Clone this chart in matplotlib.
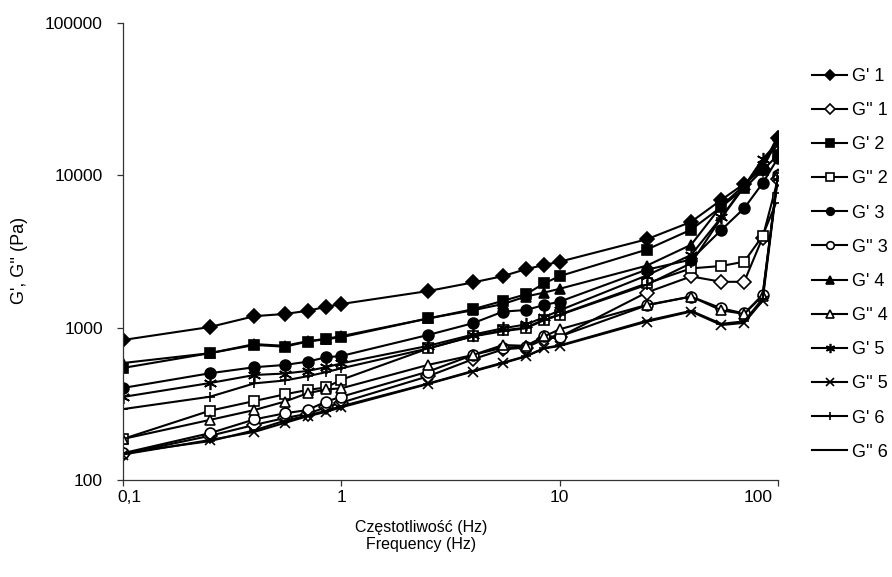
import matplotlib
matplotlib.use('Agg')
import matplotlib.pyplot as plt
import matplotlib.transforms as mtransforms
from matplotlib.ticker import FixedLocator, NullLocator

plt.rcParams['font.family'] = ['Liberation Sans', 'DejaVu Sans']

# frequency sweep (Hz)
freq = [0.1, 0.25, 0.4, 0.55, 0.7, 0.85, 1, 2.5, 4, 5.5, 7, 8.5, 10,
        25, 40, 55, 70, 85, 100]

# moduli (Pa)
g1_st = [830, 1010, 1190, 1230, 1290, 1370, 1430, 1740, 1980, 2180, 2420, 2580, 2710,
         3800, 4950, 6900, 8800, 11000, 17500]
g1_ld = [148, 195, 230, 255, 272, 300, 322, 480, 620, 720, 740, 840, 870,
         1700, 2170, 2000, 2000, 3900, 9500]
g2_st = [544, 680, 770, 750, 810, 840, 865, 1150, 1320, 1500, 1655, 1955, 2180,
         3250, 4400, 6200, 8200, 10800, 13600]
g2_ld = [186, 285, 330, 365, 390, 405, 455, 730, 880, 960, 1000, 1130, 1220,
         1950, 2450, 2540, 2710, 4000, 7100]
g3_st = [402, 502, 550, 569, 598, 639, 652, 896, 1069, 1274, 1306, 1409, 1482,
         2400, 2800, 4380, 6080, 8870, 13000]
g3_ld = [150, 203, 250, 274, 288, 327, 352, 515, 661, 740, 750, 876, 875,
         1400, 1600, 1340, 1240, 1640, 10000]
g4_st = [586, 680, 780, 760, 815, 845, 880, 1150, 1300, 1430, 1600, 1700, 1800,
         2550, 3500, 6300, 8600, 11500, 18200]
g4_ld = [186, 248, 288, 327, 371, 393, 400, 570, 661, 769, 760, 876, 976,
         1410, 1600, 1300, 1230, 1620, 10200]
g5_st = [351, 433, 489, 500, 520, 550, 583, 760, 900, 990, 1050, 1170, 1300,
         2200, 3000, 5300, 8500, 12800, 16500]
g5_ld = [147, 183, 207, 237, 262, 280, 300, 427, 515, 584, 647, 731, 758,
         1094, 1276, 1040, 1075, 1500, 9800]
g6_st = [292, 352, 431, 450, 480, 510, 541, 731, 876, 948, 991, 1121, 1212,
         1910, 2650, 5250, 8400, 12300, 15860]
g6_ld = [150, 180, 212, 245, 265, 285, 305, 430, 520, 590, 650, 735, 765,
         1110, 1290, 1060, 1100, 1550, 10300]

series = [
    ("G' 1", g1_st, 'D', 'black'),
    ("G'' 1", g1_ld, 'D', 'white'),
    ("G' 2", g2_st, 's', 'black'),
    ("G'' 2", g2_ld, 's', 'white'),
    ("G' 3", g3_st, 'o', 'black'),
    ("G'' 3", g3_ld, 'o', 'white'),
    ("G' 4", g4_st, '^', 'black'),
    ("G'' 4", g4_ld, '^', 'white'),
    ("G' 5", g5_st, (6, 2, 0), 'black'),
    ("G'' 5", g5_ld, 'x', 'black'),
    ("G' 6", g6_st, '+', 'black'),
    ("G'' 6", g6_ld, '_', 'black'),
]

fig = plt.figure(figsize=(8.92, 5.77), dpi=100)
ax = fig.add_axes([123 / 892, 97 / 577, 655 / 892, 457 / 577])

for label, vals, mk, fc in series:
    size = 7.8
    if mk == 'D':
        size = 6.8
    elif mk == (6, 2, 0):
        size = 9.5
    ax.plot(freq, vals, color='black', lw=1.5, marker=mk, markersize=size,
            markerfacecolor=fc, markeredgecolor='black', markeredgewidth=1.2,
            label=label)

ax.set_xscale('log')
ax.set_yscale('log')
ax.set_xlim(0.1, 100)
ax.set_ylim(100, 100000)

ax.xaxis.set_major_locator(FixedLocator([0.1, 1, 10, 100]))
ax.xaxis.set_minor_locator(NullLocator())
ax.set_xticklabels(['0,1', '1', '10', '100'])
ax.yaxis.set_major_locator(FixedLocator([100, 1000, 10000, 100000]))
ax.yaxis.set_minor_locator(NullLocator())
ax.set_yticklabels(['100', '1000', '10000', '100000'])

for side in ['top', 'right']:
    ax.spines[side].set_visible(False)
for side in ['left', 'bottom']:
    ax.spines[side].set_linewidth(0.9)
    ax.spines[side].set_color('#333333')

ax.tick_params(axis='both', direction='out', length=4.5, width=0.9,
               color='#333333', labelsize=12.5)
ax.tick_params(axis='y', pad=10)
ax.tick_params(axis='x', pad=3)

# nudge first / last x labels like the original
xlabels = ax.get_xticklabels()
xlabels[0].set_transform(xlabels[0].get_transform() +
                         mtransforms.ScaledTranslation(6 / 100, 0, fig.dpi_scale_trans))
xlabels[-1].set_transform(xlabels[-1].get_transform() +
                          mtransforms.ScaledTranslation(-20 / 100, 0, fig.dpi_scale_trans))

fig.text(20 / 892, 1 - 260 / 577, "G', G'' (Pa)", rotation=90,
         ha='center', va='center', fontsize=13)
fig.text(421 / 892, 1 - 536 / 577, "Częstotliwość (Hz)\nFrequency (Hz)",
         ha='center', va='center', fontsize=11.5, linespacing=1.15)

leg = ax.legend(loc='upper left', bbox_to_anchor=(812 / 892, 1 - 68 / 577),
                bbox_transform=fig.transFigure, frameon=False, fontsize=13,
                handlelength=1.95, handletextpad=0.25, labelspacing=0.95,
                markerscale=0.7, borderaxespad=0, borderpad=0)

fig.savefig('out.png', dpi=100)
